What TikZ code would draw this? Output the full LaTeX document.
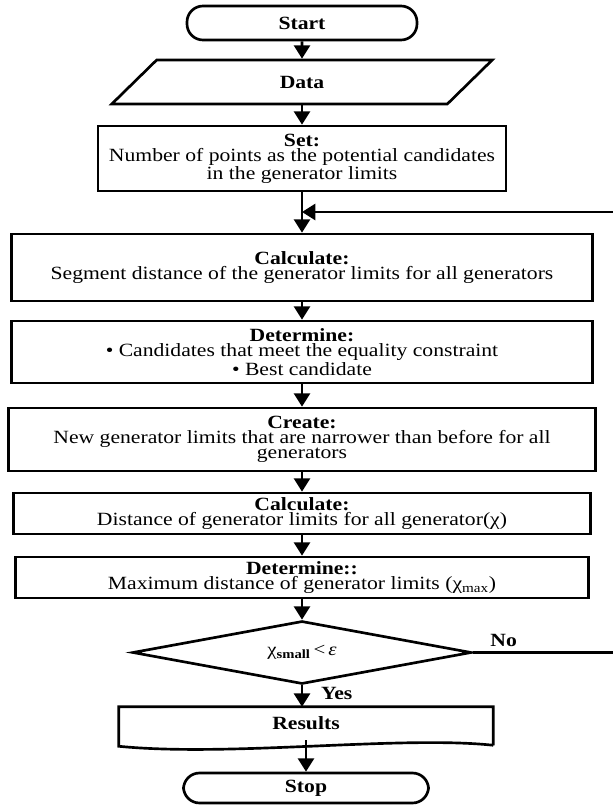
\documentclass[tikz,border=0pt]{standalone}
\usepackage{fontspec}
\setmainfont{Liberation Serif}[FakeStretch=1.16]
\usepackage{tikz}
\usetikzlibrary{calc,shapes.geometric,arrows.meta}

\begin{document}
\begin{tikzpicture}[
    x=0.75pt, y=-0.75pt,
    box/.style={rectangle, draw, line width=2pt, inner sep=0pt, align=center, font=\fontsize{14}{11.3}\selectfont},
    term/.style={rectangle, draw, line width=2pt, rounded corners=12pt, inner sep=0pt, font=\fontsize{14}{11.3}\selectfont\bfseries},
    io/.style={trapezium, trapezium left angle=61, trapezium right angle=119, trapezium stretches=true, draw, line width=2pt, inner sep=0pt, font=\fontsize{14}{11.3}\selectfont\bfseries},
    decision/.style={diamond, aspect=5.4, draw, line width=2pt, inner sep=0pt, font=\fontsize{13.5}{11.3}\selectfont},
    flow/.style={-{Triangle[width=12pt, length=10pt]}, line width=2pt},
    link/.style={line width=2pt},
    lbl/.style={font=\fontsize{14}{11.3}\selectfont\bfseries},
]
\useasboundingbox (0,0) rectangle (613,806);

% === Các khối ===
\node[term, minimum width=172.5pt, minimum height=25.5pt] (start) at (302, 23) {Start};
\node[io, minimum width=286.5pt, minimum height=33pt] (data) at (302, 82) {Data};
\node[box, minimum width=306pt, minimum height=48.75pt] (set) at (302, 158.5)
    {\textbf{Set:}\\Number of points as the potential candidates\\in the generator limits};
\node[box, minimum width=435.75pt, minimum height=50.25pt] (calc1) at (302, 267.5)
    {\textbf{Calculate:}\\Segment distance of the generator limits for all generators};
\node[box, minimum width=435.75pt, minimum height=46.5pt] (det1) at (302, 352)
    {\textbf{Determine:}\\\textbullet\ Candidates that meet the equality constraint\\\textbullet\ Best candidate};
\node[box, minimum width=440.25pt, minimum height=47.25pt] (create) at (302, 439.5)
    {\textbf{Create:}\\New generator limits that are  narrower than before for all\\generators};
\node[box, minimum width=432.75pt, minimum height=30.75pt] (calc2) at (302, 513.5)
    {\textbf{Calculate:}\\Distance of generator limits for all generator(χ)};
\node[box, minimum width=429.75pt, minimum height=30.75pt] (det2) at (302, 577.5)
    {\textbf{Determine::}\\Maximum distance of generator limits (χ\textsubscript{max})};
\node[decision, minimum width=254.25pt, minimum height=47.25pt] (cond) at (302, 652.5)
    {χ\textsubscript{\textbf{small}}\,<\,\textit{ε}};
\node[inner sep=0pt, minimum width=280.5pt, minimum height=24.75pt, lbl] (results) at (306, 723.5) {Results};
\node[term, minimum width=183.75pt, minimum height=22.5pt] (stop) at (306, 788) {Stop};

% === Khối Results (document) ===
\draw[link] ($(results.south east)+(0,5)$) -- (results.north east) -- (results.north west)
    -- ($(results.south west)+(0,6)$)
    .. controls ($(results.south west)+(111,17)$) and ($(results.south east)+(-93,-5)$) .. ($(results.south east)+(0,5)$);

% === Mũi tên ===
\draw[flow] (start) -- (data);
\draw[flow] (data) -- (set);
\draw[flow] (set) -- (calc1);
\draw[flow] (calc1) -- (det1);
\draw[flow] (det1) -- (create);
\draw[flow] (create) -- (calc2);
\draw[flow] (calc2) -- (det2);
\draw[flow] (det2) -- (cond);
\draw[flow] (cond.south) -- (cond.south |- results.north)
    node[pos=0.4, right=10pt, lbl] {Yes};
\draw[flow] (results.south) -- (stop);

% === Vòng lặp ===
\coordinate (loopin) at (613, 212);
\coordinate (loopout) at (613, 652.5);
\draw[link] (cond.east) -- (loopout) node[pos=0.22, above, lbl] {No};
\draw[flow] (loopin) -- (loopin -| set.south);

\end{tikzpicture}
\end{document}
